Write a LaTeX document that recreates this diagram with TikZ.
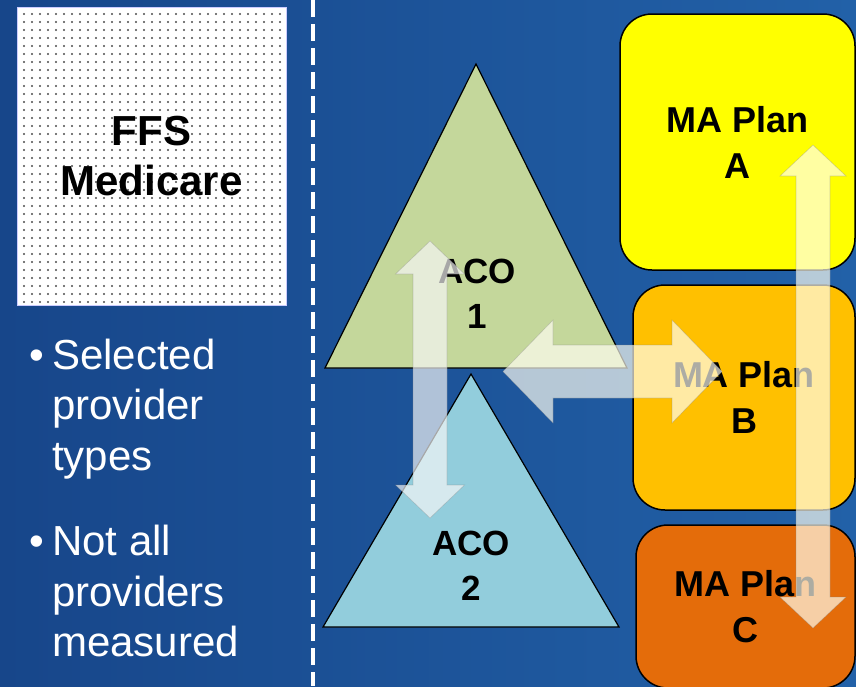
\documentclass[tikz,border=0pt]{standalone}
\usepackage{fontspec}
\setmainfont{Liberation Sans}
\usetikzlibrary{patterns.meta}
\definecolor{bgdark}{RGB}{23,70,138}
\definecolor{bglight}{RGB}{34,97,168}
\definecolor{acogreen}{RGB}{196,215,155}
\definecolor{acoblue}{RGB}{146,205,220}
\definecolor{planA}{RGB}{255,255,0}
\definecolor{planB}{RGB}{255,192,0}
\definecolor{planC}{RGB}{228,108,10}
\tikzset{
	,x = 1pt
	,y = -1pt
	,divider/.style  = {white, line width=4.5pt, dash pattern=on 17pt off 7pt}
	,ffsbox/.style   = {rectangle, draw=white!80!blue, preaction={fill=white}, pattern={Dots[distance=8pt, radius=1.05pt]}, pattern color=black!70, align=center, inner sep=0pt, minimum width=269pt, minimum height=298pt, font=\bfseries\fontsize{42}{50}\selectfont}
	,bullets/.style  = {anchor=west, align=left, inner sep=0pt, white, font=\fontsize{42}{50.5}\selectfont}
	,acotri/.style   = {draw=black, line width=1.2pt, line join=miter}
	,acotext/.style  = {align=center, inner sep=0pt, font=\bfseries\fontsize{35}{45}\selectfont}
	,plan/.style     = {rectangle, rounded corners=32pt, draw=black, line width=1.5pt, align=center, inner sep=0pt, font=\bfseries\fontsize{36}{46}\selectfont}
	,linkfill/.style = {fill=#1, fill opacity=.68, draw=gray, draw opacity=.35, line width=.6pt}
	,pics/twoway/.style n args = {5}{code={
		\path[linkfill=#5] (-#1/2,0) -- (-#1/2+#4,#3/2) -- (-#1/2+#4,#2/2) -- (#1/2-#4,#2/2) -- (#1/2-#4,#3/2)
			-- (#1/2,0) -- (#1/2-#4,-#3/2) -- (#1/2-#4,-#2/2) -- (-#1/2+#4,-#2/2) -- (-#1/2+#4,-#3/2) -- cycle;
	}}
}

\begin{document}
\begin{tikzpicture}
	\useasboundingbox (0,0) rectangle (856,686);
	\shade[left color=bgdark, right color=bglight] (0,0) rectangle (856,686);
	\draw[divider] (313,0) -- (313,686);

	% left column
	\node[ffsbox] (ffs) at (151.5,156) {FFS\\Medicare};
	\node[bullets] (sel) at (52,409) {\llap{\textbullet\hspace{8pt}}Selected\\provider\\types};
	\node[bullets] (notall) at (52,591) {\llap{\textbullet\hspace{8pt}}Not all\\providers\\measured};

	% ACOs
	\draw[acotri, fill=acogreen] (476,64) -- (627,368) -- (325,368) -- cycle;
	\draw[acotri, fill=acoblue]  (471,374) -- (619,627) -- (323,627) -- cycle;
	\node[acotext] (aco1) at (477,294) {ACO\\1};
	\node[acotext] (aco2) at (471,566) {ACO\\2};

	% MA plans
	\node[plan, fill=planA, minimum width=235pt, minimum height=256pt] (pa) at (737.5,142) {MA Plan\\A};
	\node[plan, fill=planB, minimum width=222pt, minimum height=225pt] (pb) at (744,397.5) {MA Plan\\B};
	\node[plan, fill=planC, minimum width=219pt, minimum height=163pt] (pc) at (745.5,606.5) {MA Plan\\C};

	% two-way links
	\pic[rotate=90] at (430,379.5)  {twoway={277}{34}{69}{33}{white!94!gray}};
	\pic            at (612.5,371.5) {twoway={219}{53}{103}{50}{yellow!5!white}};
	\pic[rotate=90] at (813,386.5)  {twoway={483}{34}{66}{31}{yellow!6!white}};
\end{tikzpicture}
\end{document}
